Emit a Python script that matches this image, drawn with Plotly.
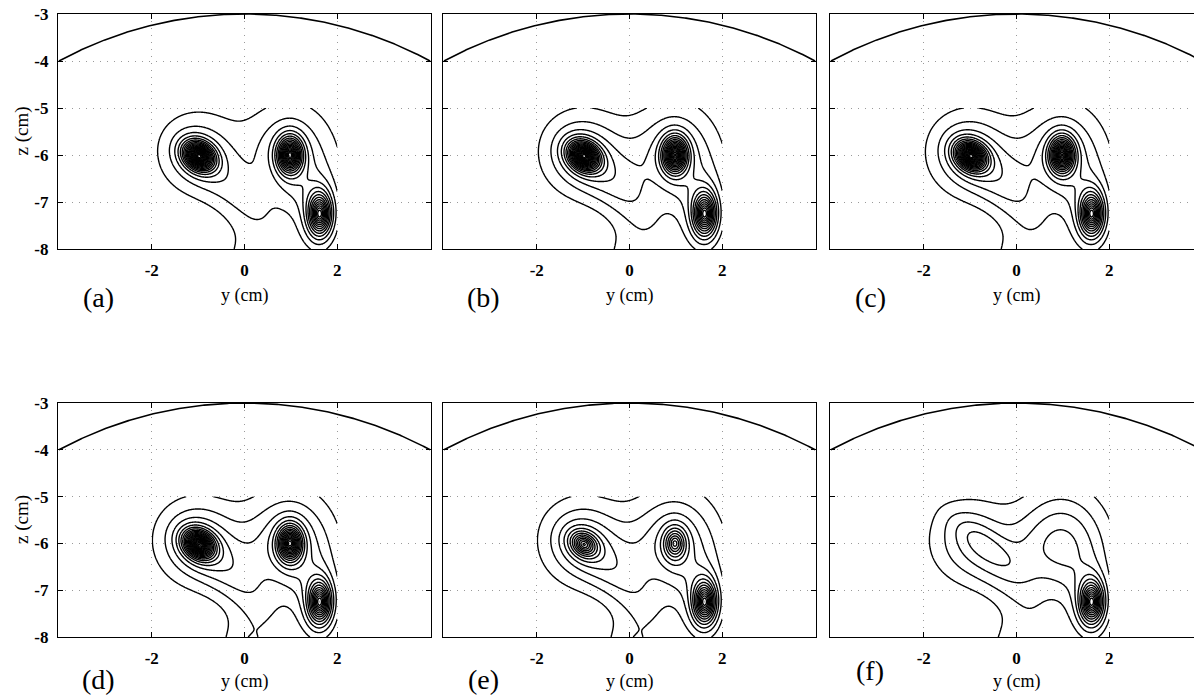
import numpy as np
import plotly.graph_objects as go

# ---------------- data ----------------
panel_labels = ["(a)", "(b)", "(c)", "(d)", "(e)", "(f)"]
y_tick_vals = [-2, 0, 2]
y_tick_text = ["-2", "0", "2"]
z_tick_vals = [-8, -7, -6, -5, -4, -3]
z_tick_text = ["-8", "-7", "-6", "-5", "-4", "-3"]
y_axis_title = "y (cm)"
z_axis_title = "z (cm)"

# head outline (circle through (-4,-4), (0,-3), (4,-4))
head_radius = 8.5
head_center_z = -11.5

# reconstruction region
region_y = [-2.0, 2.0]
region_z = [-8.0, -5.0]

# three sources: sharp cores
src_y = [-0.98, 0.98, 1.62]
src_z = [-6.02, -6.0, -7.25]
src_angle = [-35, 90, 90]
src_major = [0.27, 0.30, 0.38]
src_minor = [0.21, 0.21, 0.21]

# broad blobs: src1, src1 tail, src2, src3, bottom, bridge 1-2, bridge 2-3, src1 ridge
blob_y = [-1.0, -0.1, 0.95, 1.6, 0.1, 0.0, 1.1, -0.7]
blob_z = [-5.95, -6.9, -5.95, -7.3, -8.4, -6.35, -6.75, -6.0]
blob_angle = [0, -44, 90, 90, 0, 0, 0, -38]
blob_su = [0.62, 0.85, 0.75, 0.80, 0.45, 0.60, 0.35, 0.60]
blob_sv = [0.62, 0.38, 0.65, 0.42, 0.60, 0.45, 0.35, 0.22]

# per-panel amplitudes
core_amp_a = [1.00, 0.80, 0.62]
core_amp_b = [1.00, 0.80, 0.62]
core_amp_c = [0.95, 0.80, 0.62]
core_amp_d = [0.95, 0.75, 0.62]
core_amp_e = [0.45, 0.38, 0.62]
core_amp_f = [0.00, 0.00, 0.62]

blob_amp_a = [0.125, 0.090, 0.140, 0.105, 0.072, 0.000, 0.040, 0.000]
blob_amp_b = [0.160, 0.100, 0.150, 0.105, 0.090, 0.040, 0.030, 0.000]
blob_amp_c = [0.160, 0.100, 0.150, 0.105, 0.090, 0.040, 0.030, 0.000]
blob_amp_d = [0.170, 0.100, 0.180, 0.105, 0.107, 0.040, 0.030, 0.000]
blob_amp_e = [0.170, 0.100, 0.180, 0.105, 0.107, 0.040, 0.030, 0.000]
blob_amp_f = [0.130, 0.070, 0.200, 0.105, 0.107, 0.045, 0.010, 0.065]

core_amps = [core_amp_a, core_amp_b, core_amp_c, core_amp_d, core_amp_e, core_amp_f]
blob_amps = [blob_amp_a, blob_amp_b, blob_amp_c, blob_amp_d, blob_amp_e, blob_amp_f]

level_start, level_end, level_step = 0.05, 1.2, 0.05

# ---------------- field ----------------
gy = np.linspace(region_y[0], region_y[1], 281)
gz = np.linspace(region_z[0], region_z[1], 211)
Y, Z = np.meshgrid(gy, gz)


def rotated(dy, dz, ang):
    t = np.deg2rad(ang)
    u = dy * np.cos(t) + dz * np.sin(t)
    v = -dy * np.sin(t) + dz * np.cos(t)
    return u, v


def field(core_amp, blob_amp):
    F = np.zeros_like(Y)
    for i in range(len(src_y)):
        u, v = rotated(Y - src_y[i], Z - src_z[i], src_angle[i])
        d = np.sqrt((u / src_major[i]) ** 2 + (v / src_minor[i]) ** 2)
        F += core_amp[i] * np.exp(-d ** 1.5)
    for j in range(len(blob_y)):
        u, v = rotated(Y - blob_y[j], Z - blob_z[j], blob_angle[j])
        q = (u / blob_su[j]) ** 2 + (v / blob_sv[j]) ** 2
        F += blob_amp[j] * np.exp(-0.5 * q)
    return np.round(F, 5)


# ---------------- layout geometry ----------------
W, H = 1194, 700
col_px = [(58, 431), (443, 816), (830, 1194)]
row_px = [(14, 249), (403, 637)]
unit = (431 - 58) / 8.04
x_ranges = [[-4.02, 4.02], [-4.02, 4.02], [-4.02, -4.02 + (1194 - 830) / unit]]

fig = go.Figure()
serif = "Liberation Serif"
arc_x = np.linspace(-4.0, 4.0, 300)
arc_z = head_center_z + np.sqrt(head_radius ** 2 - arc_x ** 2)

annotations = []
for k in range(6):
    r, c = divmod(k, 3)
    n = "" if k == 0 else str(k + 1)
    xa, ya = "x" + n, "y" + n
    F = field(core_amps[k], blob_amps[k])
    fig.add_trace(go.Contour(
        x=gy, y=gz, z=F, xaxis=xa, yaxis=ya,
        contours=dict(start=level_start, end=level_end, size=level_step, coloring="lines"),
        colorscale=[[0, "black"], [1, "black"]], showscale=False,
        line=dict(width=1.4, smoothing=0.8), hoverinfo="skip"))
    fig.add_trace(go.Scatter(x=arc_x, y=arc_z, mode="lines", xaxis=xa, yaxis=ya,
                             line=dict(color="black", width=1.6), hoverinfo="skip",
                             showlegend=False))
    x0, x1 = col_px[c]
    y0, y1 = row_px[r]
    common = dict(showline=True, linecolor="black", linewidth=1.3, ticks="inside",
                  ticklen=5, tickcolor="black", showgrid=True, gridcolor="#9a9a9a",
                  griddash="1px,6px", gridwidth=1, zeroline=False, automargin=False,
                  tickfont=dict(family=serif, size=17, color="black", weight="bold"))
    fig.layout["xaxis" + n] = dict(common, domain=[x0 / W, x1 / W], range=x_ranges[c],
                                   tickvals=y_tick_vals, ticktext=y_tick_text, anchor=ya,
                                   mirror="ticks", ticklabelstandoff=5)
    fig.layout["yaxis" + n] = dict(common, domain=[1 - y1 / H, 1 - y0 / H], range=[-8, -3],
                                   tickvals=z_tick_vals, ticktext=z_tick_text, anchor=xa,
                                   mirror=("ticks" if c < 2 else False),
                                   showticklabels=(c == 0), ticklabelstandoff=5)
    label_y = [297, 679][r] if k != 5 else 670
    title_y = [295, 681][r]
    annotations.append(dict(text=panel_labels[k], xref=xa, yref="paper", x=-3.15,
                            y=1 - label_y / H, showarrow=False, xanchor="center",
                            yanchor="middle", font=dict(family=serif, size=28, color="black")))
    annotations.append(dict(text=y_axis_title, xref=xa, yref="paper", x=0,
                            y=1 - title_y / H, showarrow=False, xanchor="center",
                            yanchor="middle", font=dict(family=serif, size=18, color="black")))
    if c == 0:
        annotations.append(dict(text=z_axis_title, xref="paper", yref="paper", x=22 / W,
                                y=1 - (y0 + y1) / 2 / H, showarrow=False, textangle=-90,
                                xanchor="center", yanchor="middle",
                                font=dict(family=serif, size=19, color="black")))

fig.update_layout(template="none", width=W, height=H, margin=dict(l=0, r=0, t=0, b=0, pad=0),
                  paper_bgcolor="white", plot_bgcolor="white", showlegend=False,
                  annotations=annotations, font=dict(family=serif))
fig.write_html("out.html")
